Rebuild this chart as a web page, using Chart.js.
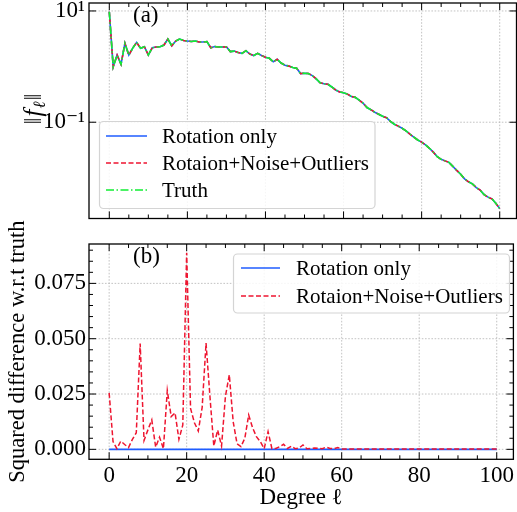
<!DOCTYPE html>
<html>
<head>
<meta charset="utf-8">
<script src="https://cdn.jsdelivr.net/npm/chart.js@4.4.1/dist/chart.umd.min.js"></script>
<style>
html, body { margin: 0; padding: 0; background: #fff; }
#wrap { position: relative; width: 517px; height: 512px; }
canvas { position: absolute; left: 0; }
#top { top: 0; }
#bottom { top: 190px; }
</style>
</head>
<body>
<div id="wrap">
  <canvas id="top" width="517" height="230"></canvas>
  <canvas id="bottom" width="517" height="322"></canvas>
</div>
<script>
// degree l = 0..100
const degrees = Array.from({length: 101}, (_, l) => l);

// ||f_l||; the three curves sit on top of each other
const truthNorm = [
  9.7, 0.99, 1.61, 1.10, 2.62, 1.61, 2.15, 2.73, 2.13, 2.27,
  1.61, 2.18, 2.25, 2.27, 2.44, 3.13, 2.37, 2.88, 3.13, 2.94,
  2.88, 2.82, 2.88, 2.76, 2.76, 2.82, 2.18, 2.29, 2.25, 2.25,
  2.27, 1.86, 1.90, 1.79, 1.73, 1.93, 1.68, 1.58, 1.73, 1.58,
  1.47, 1.41, 1.22, 1.35, 1.16, 1.06, 1.02, 0.96, 0.93, 0.75,
  0.76, 0.75, 0.69, 0.60, 0.51, 0.49, 0.48, 0.43, 0.38, 0.35,
  0.34, 0.32, 0.29, 0.28, 0.25, 0.22, 0.184, 0.168, 0.151, 0.139,
  0.128, 0.121, 0.104, 0.092, 0.085, 0.078, 0.070, 0.061, 0.054, 0.048,
  0.044, 0.039, 0.034, 0.029, 0.024, 0.0215, 0.0202, 0.0190, 0.0161, 0.0136,
  0.0116, 0.0096, 0.0085, 0.0078, 0.0067, 0.0060, 0.0050, 0.0045, 0.0042, 0.0035,
  0.0028
];
const rotationNorm = truthNorm;
const noisyNorm = truthNorm;

// squared difference w.r.t. truth, panel (b)
const sqDiffRotation = [
  0,0,0,0,0,0,0,0,0,0, 0,0,0,0,0,0,0,0,0,0,
  0,0,0,0,0,0,0,0,0,0, 0,0,0,0,0,0,0,0,0,0,
  0,0,0,0,0,0,0,0,0,0, 0,0,0,0,0,0,0,0,0,0,
  0,0,0,0,0,0,0,0,0,0, 0,0,0,0,0,0,0,0,0,0,
  0,0,0,0,0,0,0,0,0,0, 0,0,0,0,0,0,0,0,0,0,
  0
];
const sqDiffNoisy = [
  0.0255, 0.0035, 0.0003, 0.0037, 0.0022, 0.0008, 0.0045, 0.0075, 0.0478, 0.0040,
  0.0088, 0.0133, 0.0010, 0.0055, 0.0003, 0.0266, 0.0148, 0.0165, 0.0045, 0.0110,
  0.0888, 0.0185, 0.0120, 0.0083, 0.0190, 0.0480, 0.0240, 0.0015, 0.0087, 0.0015,
  0.0240, 0.0337, 0.0125, 0.0025, 0.0012, 0.0050, 0.0155, 0.0098, 0.0057, 0.0035,
  0.0003, 0.0080, 0.0003, 0.0004, 0.0012, 0.0023, 0.0004, 0.0014, 0.0003, 0.0006,
  0.0020, 0.0003, 0.0004, 0.0006, 0.0004, 0.0003, 0.0010, 0.0004, 0.0003, 0.0008,
  0.0002, 0.0001, 0.0002, 0.0001, 0.0001, 0.0002, 0.0001, 0.0001, 0.0001, 0.0002,
  0.0001, 0.0001, 0.0001, 0.0001, 0.0002, 0.0001, 0.0001, 0.0001, 0.0001, 0.0001,
  0.0001, 0.0001, 0.0001, 0.0001, 0.0001, 0.0001, 0.0001, 0.0001, 0.0001, 0.0001,
  0.0001, 0.0001, 0.0001, 0.0001, 0.0001, 0.0001, 0.0001, 0.0001, 0.0001, 0.0001,
  0.0001
];

// axis ticks
const xTicks = [0, 20, 40, 60, 80, 100];
const yTopTicks = [0.1, 10];
const yTopLabels = ['10\u207B\u00B9', '10\u00B9'];
const yBotTicks = [0, 0.025, 0.05, 0.075];
const yBotLabels = ['0.000', '0.025', '0.050', '0.075'];

const BLUE = '#1f5cff', RED = '#ee1530', GREEN = '#11ee33';
const SERIF = "'Liberation Serif', 'DejaVu Serif', serif";
Chart.defaults.font.family = SERIF;
Chart.defaults.color = '#000';

function toXY(values) {
  return values.map((v, i) => ({x: degrees[i], y: v}));
}

// minor ticks: every 5 on x, every 0.005 on the lower y axis
const xMinor = [];
for (let v = 5; v < 100; v += 5) if (v % 20) xMinor.push(v);
const yBotMinor = [];
for (let k = 1; k <= 18; k++) if (k % 5) yBotMinor.push(k * 0.005);

// dotted grid, inward ticks on all sides, black frame, panel tag
const frame = {
  id: 'frame',
  beforeDatasetsDraw(chart, args, o) {
    const {ctx, chartArea: a, scales: {x, y}} = chart;
    ctx.save();
    ctx.strokeStyle = '#b4b4b4';
    ctx.lineWidth = 0.8;
    ctx.setLineDash([1.6, 1.6]);
    ctx.beginPath();
    xTicks.forEach(v => {
      const p = x.getPixelForValue(v);
      ctx.moveTo(p, a.top); ctx.lineTo(p, a.bottom);
    });
    o.yMajor.forEach(v => {
      const p = y.getPixelForValue(v);
      ctx.moveTo(a.left, p); ctx.lineTo(a.right, p);
    });
    ctx.stroke();
    ctx.restore();
  },
  afterDatasetsDraw(chart, args, o) {
    const {ctx, chartArea: a, scales: {x, y}} = chart;
    ctx.save();
    ctx.strokeStyle = '#000';
    ctx.lineWidth = 1;
    ctx.beginPath();
    const xt = (vals, len) => vals.forEach(v => {
      const p = x.getPixelForValue(v);
      ctx.moveTo(p, a.bottom); ctx.lineTo(p, a.bottom - len);
      ctx.moveTo(p, a.top); ctx.lineTo(p, a.top + len);
    });
    const yt = (vals, len) => vals.forEach(v => {
      const p = y.getPixelForValue(v);
      ctx.moveTo(a.left, p); ctx.lineTo(a.left + len, p);
      ctx.moveTo(a.right, p); ctx.lineTo(a.right - len, p);
    });
    xt(xTicks, 7); xt(xMinor, 4);
    yt(o.yMajor, 7); yt(o.yMinor, 4);
    ctx.stroke();
    ctx.lineWidth = 1.3;
    ctx.strokeRect(a.left, a.top, a.right - a.left, a.bottom - a.top);

    ctx.fillStyle = '#000';
    ctx.font = '23px ' + SERIF;
    ctx.textBaseline = 'middle';
    ctx.fillText(o.tag.text, o.tag.x, o.tag.y);

    if (o.normTitle) {
      // ||f_l|| drawn by hand for the subscript
      const t = o.normTitle;
      ctx.translate(t.x, t.y);
      ctx.rotate(-Math.PI / 2);
      const big = '25px ' + SERIF, ital = 'italic 25px ' + SERIF, small = 'italic 17px ' + SERIF;
      ctx.font = big; const wBar = ctx.measureText('\u2016').width;
      ctx.font = ital; const wF = ctx.measureText('f').width;
      ctx.font = small; const wL = ctx.measureText('\u2113').width;
      let cx = -(2 * wBar + wF + wL + 3) / 2;
      ctx.textBaseline = 'alphabetic';
      ctx.font = big; ctx.fillText('\u2016', cx, 8); cx += wBar + 1;
      ctx.font = ital; ctx.fillText('f', cx, 8); cx += wF + 1;
      ctx.font = small; ctx.fillText('\u2113', cx, 12); cx += wL + 1;
      ctx.font = big; ctx.fillText('\u2016', cx, 8);
    }
    ctx.restore();
  }
};

// legend in a rounded box, samples keep the dash patterns
const boxLegend = {
  id: 'boxLegend',
  afterDraw(chart, args, o) {
    const ctx = chart.ctx;
    ctx.save();
    ctx.beginPath();
    ctx.roundRect(o.box[0], o.box[1], o.box[2], o.box[3], 4);
    ctx.fillStyle = 'rgba(255,255,255,0.85)';
    ctx.fill();
    ctx.strokeStyle = '#d4d4d4';
    ctx.lineWidth = 1.2;
    ctx.stroke();
    ctx.font = '21px ' + SERIF;
    ctx.textBaseline = 'middle';
    ctx.fillStyle = '#000';
    chart.data.datasets.forEach((ds, i) => {
      const yy = o.rows[i];
      ctx.strokeStyle = ds.borderColor;
      ctx.lineWidth = ds.borderWidth;
      ctx.setLineDash(ds.borderDash || []);
      ctx.beginPath();
      ctx.moveTo(o.line[0], yy); ctx.lineTo(o.line[1], yy);
      ctx.stroke();
      ctx.setLineDash([]);
      ctx.fillText(ds.label, o.textX, yy + 1);
    });
    ctx.restore();
  }
};

const xRange = {min: -5.2, max: 104.3};

// lower "order" is drawn on top: truth over noisy over rotation only
new Chart(document.getElementById('top'), {
  type: 'line',
  data: {
    datasets: [
      {label: 'Rotation only', data: toXY(rotationNorm), borderColor: BLUE, borderWidth: 1.6, order: 3},
      {label: 'Rotaion+Noise+Outliers', data: toXY(noisyNorm), borderColor: RED, borderWidth: 1.6, borderDash: [5, 2.5], order: 2},
      {label: 'Truth', data: toXY(truthNorm), borderColor: GREEN, borderWidth: 1.6, borderDash: [8, 2.5, 1.5, 2.5], order: 1}
    ]
  },
  options: {
    responsive: false,
    animation: false,
    devicePixelRatio: 1,
    elements: {point: {radius: 0}, line: {tension: 0}},
    layout: {padding: {top: 3, right: 0.5, left: 0, bottom: 0}},
    scales: {
      x: {
        type: 'linear', ...xRange,
        ticks: {display: false},
        grid: {display: false},
        border: {display: false},
        afterFit(s) { s.height = 11.5; }
      },
      y: {
        type: 'logarithmic', min: 0.00186, max: 13.9,
        afterBuildTicks(s) { s.ticks = yTopTicks.map(v => ({value: v})); },
        ticks: {callback: (v, i) => yTopLabels[i], font: {size: 23}, padding: 4},
        grid: {display: false, drawTicks: false},
        border: {display: false},
        afterFit(s) { s.width = 89; s.paddingTop = 0; s.paddingBottom = 0; }
      }
    },
    plugins: {
      legend: {display: false},
      tooltip: {enabled: false},
      frame: {yMajor: yTopTicks, yMinor: [], tag: {text: '(a)', x: 133, y: 16}, normTitle: {x: 33, y: 109}},
      boxLegend: {box: [99.5, 121.5, 275.5, 87], rows: [136, 163, 190], line: [106, 147], textX: 162}
    }
  },
  plugins: [frame, boxLegend]
});

// this canvas starts 40px above the lower panel so its long y title has room
new Chart(document.getElementById('bottom'), {
  type: 'line',
  data: {
    datasets: [
      {label: 'Rotation only', data: toXY(sqDiffRotation), borderColor: BLUE, borderWidth: 1.6, order: 2},
      {label: 'Rotaion+Noise+Outliers', data: toXY(sqDiffNoisy), borderColor: RED, borderWidth: 1.5, borderDash: [5, 2.5], order: 1}
    ]
  },
  options: {
    responsive: false,
    animation: false,
    devicePixelRatio: 1,
    elements: {point: {radius: 0}, line: {tension: 0}},
    layout: {padding: {top: 54, right: 0.5, left: 0, bottom: 0}},
    scales: {
      x: {
        type: 'linear', ...xRange,
        afterBuildTicks(s) { s.ticks = xTicks.map(v => ({value: v})); },
        ticks: {font: {size: 23}, padding: 3, maxRotation: 0},
        grid: {display: false, drawTicks: false},
        border: {display: false},
        title: {display: true, text: 'Degree \u2113', font: {size: 23}, padding: {top: 0, bottom: 0}},
        afterFit(s) { s.height = 52.7; }
      },
      y: {
        type: 'linear', min: -0.0045, max: 0.0928,
        afterBuildTicks(s) { s.ticks = yBotTicks.map(v => ({value: v})); },
        ticks: {callback: (v, i) => yBotLabels[i], font: {size: 23}, padding: 3},
        grid: {display: false, drawTicks: false},
        border: {display: false},
        title: {display: true, text: 'Squared difference w.r.t truth', font: {size: 22.5}, padding: {top: 5, bottom: 0}},
        afterFit(s) { s.width = 89; }
      }
    },
    plugins: {
      legend: {display: false},
      tooltip: {enabled: false},
      frame: {yMajor: yBotTicks, yMinor: yBotMinor, tag: {text: '(b)', x: 133, y: 67}},
      boxLegend: {box: [233.5, 64, 276, 59], rows: [78, 106], line: [241, 280], textX: 296}
    }
  },
  plugins: [frame, boxLegend]
});
</script>
</body>
</html>
